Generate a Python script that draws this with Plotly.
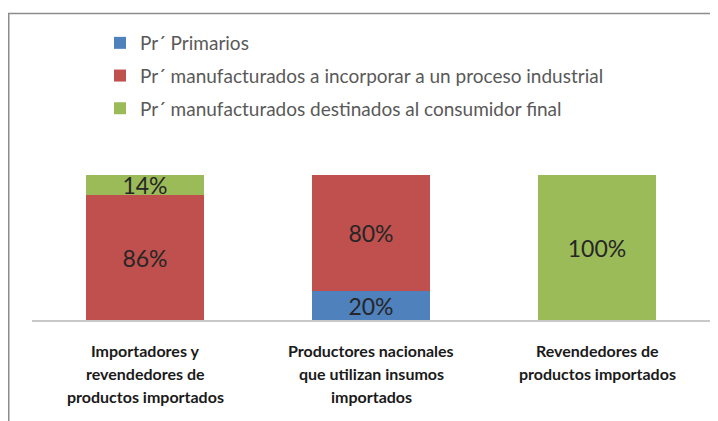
import plotly.graph_objects as go

categories = ["Importadores y<br>revendedores de<br>productos importados",
              "Productores nacionales<br>que utilizan insumos<br>importados",
              "Revendedores de<br>productos importados"]
series_names = ["Pr´ Primarios",
                "Pr´ manufacturados a incorporar a un proceso industrial",
                "Pr´ manufacturados destinados al consumidor final"]
primarios = [0, 20, 0]
incorporar = [86, 80, 0]
consumidor = [14, 0, 100]
colors = ["#4F81BD", "#C0504D", "#9BBB59"]

FONT = "Lato"
fig = go.Figure()
for i, (name, vals) in enumerate(zip(series_names, [primarios, incorporar, consumidor])):
    fig.add_trace(go.Bar(
        x=list(range(len(categories))), y=vals, name=name,
        marker=dict(color=colors[i], line=dict(width=0)),
        text=[f"{v}%" if v else "" for v in vals],
        textposition="inside", insidetextanchor="middle",
        constraintext="none",
        textfont=dict(family=FONT, size=23, color="#262626"),
        legendgroup=f"g{i}", hoverinfo="skip",
    ))

annotations = []
for ci, cat in enumerate(categories):
    for li, line in enumerate(cat.split("<br>")):
        annotations.append(dict(
            x=ci, y=0, xref="x", yref="y", text=f"<b>{line}</b>",
            showarrow=False, yanchor="middle", xanchor="center",
            yshift=-(30 + 23 * li),
            font=dict(family=FONT, size=16, color="#1a1a1a")))

# page is rendered with an 8px body margin, so the figure is 8px smaller
W, H = 710, 413
L, R, T, B = 24, 8, 167, 101
pw, ph = W - L - R, H - T - B
def px_x(v): return (v - L) / pw
def px_y(v): return (H - B - v) / ph

fig.update_layout(
    width=W, height=H, barmode="stack", bargap=0.48,
    margin=dict(l=L, r=R, t=T, b=B, pad=0),
    paper_bgcolor="white", plot_bgcolor="white",
    font=dict(family=FONT),
    xaxis=dict(range=[-0.5, 2.5], showticklabels=False, ticks="",
               showline=True, linecolor="#c8c8c8", linewidth=2,
               showgrid=False, zeroline=False, fixedrange=True),
    yaxis=dict(range=[0, 100], visible=False, showgrid=False, fixedrange=True),
    legend=dict(x=px_x(92), y=px_y(16), xanchor="left", yanchor="top",
                orientation="v", traceorder="grouped", tracegroupgap=5,
                font=dict(family=FONT, size=19, color="#595959"),
                bgcolor="rgba(0,0,0,0)", itemwidth=30),
    annotations=annotations,
    shapes=[dict(type="rect", xref="paper", yref="paper",
                 x0=px_x(0.75), x1=px_x(704), y0=px_y(420), y1=px_y(5.5),
                 line=dict(color="#8c8c8c", width=1.5), layer="below")],
    showlegend=True,
)
fig.write_html("out.html")
